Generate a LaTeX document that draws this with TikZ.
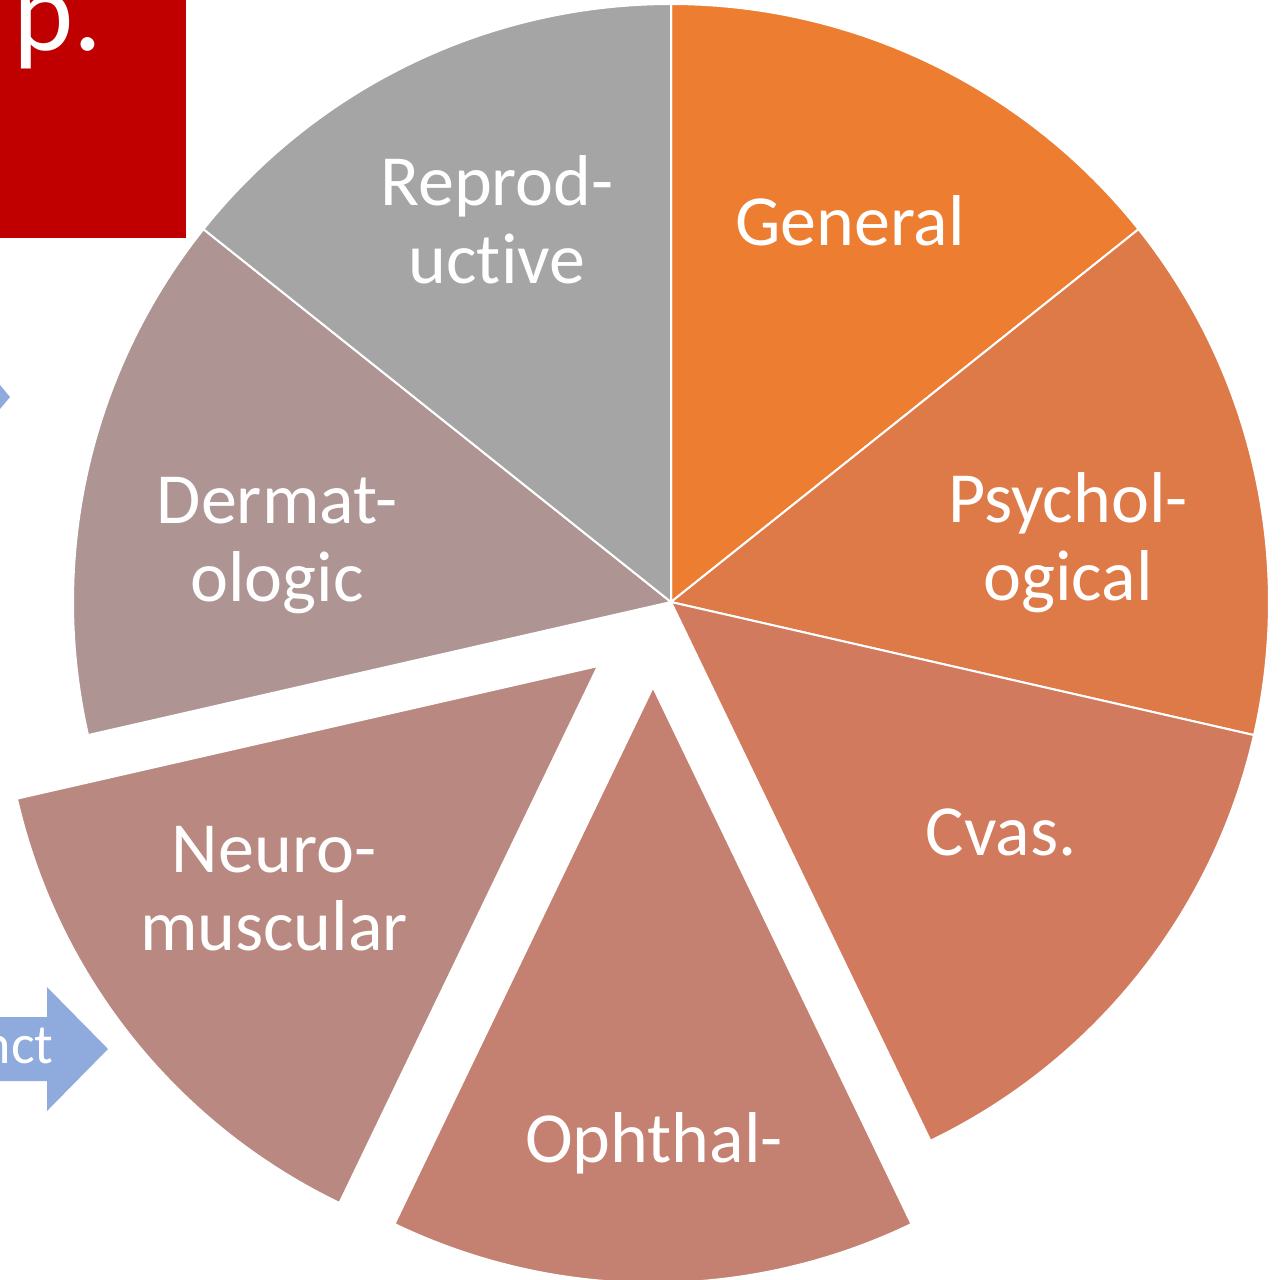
\documentclass[tikz,border=0pt]{standalone}
\usepackage{fontspec}
\setmainfont{Carlito}[Ligatures=NoCommon]
\usepackage{tikz}
\usepackage{xcolor}

\definecolor{cgeneral}{RGB}{237,125,49}
\definecolor{cpsych}{RGB}{222,122,72}
\definecolor{ccvas}{RGB}{210,122,94}
\definecolor{cophthal}{RGB}{196,128,112}
\definecolor{cneuro}{RGB}{185,136,128}
\definecolor{cdermat}{RGB}{174,148,147}
\definecolor{creprod}{RGB}{165,165,165}
\definecolor{ctitle}{RGB}{192,0,0}
\definecolor{carrow}{RGB}{143,170,220}

\begin{document}
\begin{tikzpicture}[x=0.75pt,y=0.75pt,yscale=-1,xscale=1,
  slice/.style={draw=white, line width=1.5pt},
  slicelabel/.style={text=white, font=\fontsize{54}{58.5}\selectfont, align=center, inner sep=0pt, anchor=base}]
\clip (0,0) rectangle (1287,1279);

%Centres: whole pie, and the two pulled-out slices
\coordinate (pc) at (671,602);
\coordinate (nc) at (598,666);
\coordinate (oc) at (653,687);

%Shape: Slice General
\filldraw [slice, fill=cgeneral] (pc) -- ++(-90:598) arc [start angle=-90, end angle=-38.57, radius=598] -- cycle;
%Shape: Slice Psychological
\filldraw [slice, fill=cpsych] (pc) -- ++(-38.57:598) arc [start angle=-38.57, end angle=12.86, radius=598] -- cycle;
%Shape: Slice Cvas
\filldraw [slice, fill=ccvas] (pc) -- ++(12.86:598) arc [start angle=12.86, end angle=64.29, radius=598] -- cycle;
%Shape: Slice Ophthal (pulled out)
\filldraw [slice, fill=cophthal] (oc) -- ++(64.29:596) arc [start angle=64.29, end angle=115.71, radius=596] -- cycle;
%Shape: Slice Neuromuscular (pulled out)
\filldraw [slice, fill=cneuro] (nc) -- ++(115.71:596) arc [start angle=115.71, end angle=167.14, radius=596] -- cycle;
%Shape: Slice Dermatologic
\filldraw [slice, fill=cdermat] (pc) -- ++(167.14:598) arc [start angle=167.14, end angle=218.57, radius=598] -- cycle;
%Shape: Slice Reproductive
\filldraw [slice, fill=creprod] (pc) -- ++(218.57:598) arc [start angle=218.57, end angle=270, radius=598] -- cycle;

% Text Node (base = last line)
\node [slicelabel] (general) at (850,245) {General};
% Text Node
\node [slicelabel] (psych) at (1068,600) {Psychol-\\ogical};
% Text Node
\node [slicelabel] (cvas) at (1001,855) {Cvas.};
% Text Node
\node [slicelabel] (ophthal) at (654,1162) {Ophthal-};
% Text Node
\node [slicelabel] (neuro) at (274,950) {Neuro-\\muscular};
% Text Node
\node [slicelabel] (dermat) at (277,601) {Dermat-\\ologic};
% Text Node
\node [slicelabel] (reprod) at (497,283) {Reprod-\\uctive};

%Shape: Rectangle (title box)
\fill [ctitle] (0,0) rectangle (186,238);
% Text Node
\node [anchor=base west, inner sep=0pt, text=white, font=\fontsize{86}{95}\selectfont] (title) at (13,50) {p.};

%Shape: Right Arrow (tip only)
\fill [carrow] (0,385) -- (10,397) -- (0,409) -- cycle;
%Shape: Right Arrow
\fill [carrow] (0,1017) -- (47,1017) -- (47,987) -- (108,1049) -- (47,1111) -- (47,1081) -- (0,1081) -- cycle;
% Text Node
\node [anchor=base east, inner sep=0pt, text=white, font=\fontsize{42}{46}\selectfont] (distinct) at (54,1063) {nct};

\end{tikzpicture}
\end{document}
